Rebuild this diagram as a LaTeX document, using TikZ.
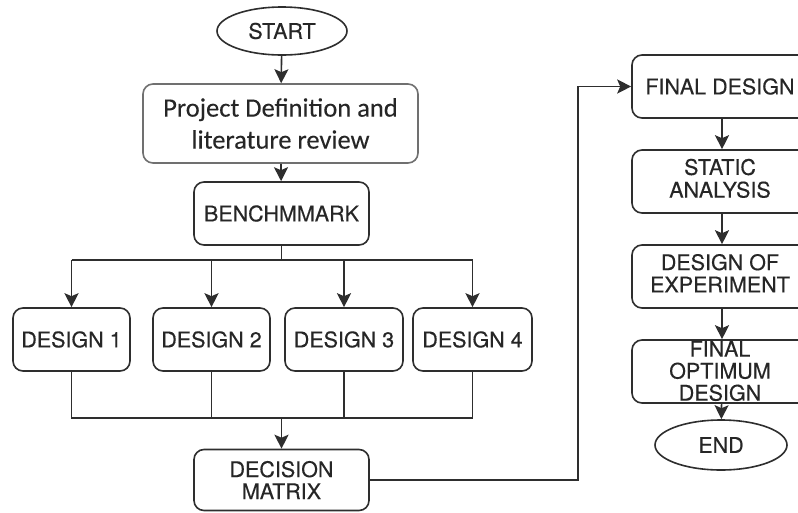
\documentclass[tikz,border=0pt]{standalone}
\usepackage{fontspec}
\setmainfont{TeX Gyre Heros}
\newfontfamily\boxfont{TeX Gyre Heros}[FakeBold=0.3]
\newfontfamily\calibrifont{Carlito}[FakeBold=0.15]
\usetikzlibrary{shapes.geometric,arrows.meta}
\definecolor{linec}{HTML}{2E2E2E}
\definecolor{txtc}{HTML}{262626}
\definecolor{grayb}{HTML}{707070}
\begin{document}
\begin{tikzpicture}[x=1pt,y=-1pt,
  box/.style={draw=linec,line width=1.6pt,rounded corners=10pt,align=center,
    text=txtc,inner sep=0pt,font=\boxfont\fontsize{21.5}{22}\selectfont},
  ell/.style={draw=linec,line width=1.6pt,ellipse,align=center,text=txtc,inner sep=0pt,
    font=\boxfont\fontsize{21.5}{22}\selectfont},
  conn/.style={draw=linec,line width=1.6pt},
  arr/.style={conn,-{Stealth[length=14pt,width=14pt,inset=3pt]}}]
\clip (0,0) rectangle (798,512);
\fill[white] (0,0) rectangle (798,512);
% left column
\node[ell,minimum width=130pt,minimum height=48pt] (start) at (282,31) {START};
\node[box,draw=grayb,minimum width=275pt,minimum height=79pt,
  font=\calibrifont\fontsize{26.5}{32}\selectfont] (proj) at (280.5,123.5)
  {Project Definition and\\literature review};
\node[box,minimum width=175pt,minimum height=63pt] (bench) at (281.5,213.5) {BENCHMMARK};
\node[box,minimum width=117pt,minimum height=63pt] (d1) at (71.5,339.5) {DESIGN 1};
\node[box,minimum width=117pt,minimum height=63pt] (d2) at (211.5,339.5) {DESIGN 2};
\node[box,minimum width=118pt,minimum height=63pt] (d3) at (344,339.5) {DESIGN 3};
\node[box,minimum width=119pt,minimum height=63pt] (d4) at (472.5,339.5) {DESIGN 4};
\node[box,minimum width=175pt,minimum height=61pt] (dm) at (281.5,480) {DECISION\\MATRIX};
% right column
\node[box,minimum width=180pt,minimum height=63pt] (fd) at (722,86.5) {\hspace*{-4pt}FINAL DESIGN};
\node[box,minimum width=180pt,minimum height=63pt] (sa) at (722,181.5) {\hspace*{-4pt}\begin{tabular}{@{}c@{}}STATIC\\ANALYSIS\end{tabular}};
\node[box,minimum width=180pt,minimum height=63pt] (doe) at (722,276.5) {\hspace*{-4pt}\begin{tabular}{@{}c@{}}DESIGN OF\\EXPERIMENT\end{tabular}};
\node[box,minimum width=180pt,minimum height=63pt] (fo) at (722,371.5) {};
\node[text=txtc,align=center,inner sep=0pt,font=\boxfont\fontsize{21.5}{22}\selectfont] (fotext) at (720,371)
  {FINAL\\OPTIMUM\\DESIGN};
\node[ell,minimum width=132pt,minimum height=50pt] (end) at (721,445) {END};
% connectors
\draw[arr] (start) -- (proj);
\draw[arr] (proj) -- (bench);
\coordinate (bus) at (281.5,260);
\coordinate (b1) at (71.5,260);
\coordinate (b2) at (211.5,260);
\coordinate (b3) at (344,260);
\coordinate (b4) at (472.5,260);
\draw[conn] (bench.south) -- (bus);
\draw[conn] (b1) -- (b4);
\draw[arr] (b1) -- (d1.north);
\draw[arr] (b2) -- (d2.north);
\draw[arr] (b3) -- (d3.north);
\draw[arr] (b4) -- (d4.north);
\coordinate (c1) at (71.5,418);
\coordinate (c2) at (211.5,418);
\coordinate (c3) at (344,418);
\coordinate (c4) at (472.5,418);
\coordinate (cm) at (281.5,418);
\draw[conn] (d1.south) -- (c1) -- (c4) -- (d4.south);
\draw[conn] (d2.south) -- (c2);
\draw[conn] (d3.south) -- (c3);
\draw[arr] (cm) -- (dm.north);
\coordinate (turn) at (578,480);
\draw[arr] (dm.east) -- (turn) |- (fd.west);
\draw[arr] (fd) -- (sa);
\draw[arr] (sa) -- (doe);
\draw[arr] (doe) -- (fo);
\draw[arr] (fo) -- (end);
\end{tikzpicture}
\end{document}
